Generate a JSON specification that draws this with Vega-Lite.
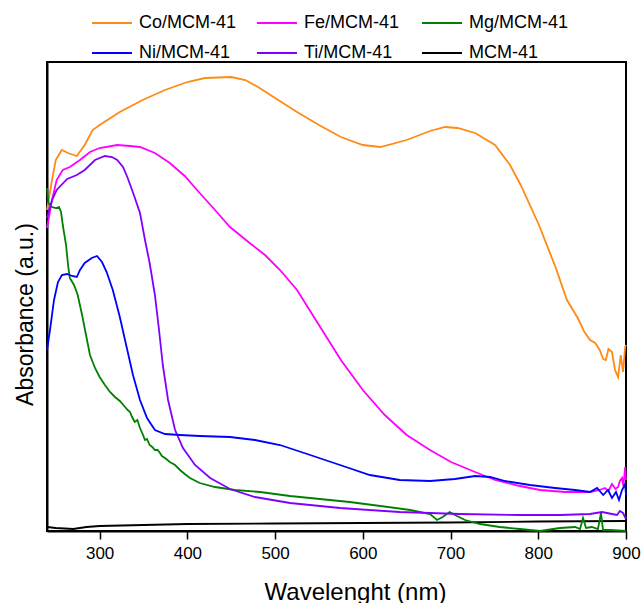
{
  "$schema": "https://vega.github.io/schema/vega-lite/v6.json",
  "width": 579,
  "height": 469,
  "autosize": "none",
  "padding": {"left": 47, "top": 62, "right": 17, "bottom": 72},
  "config": {
    "font": "Liberation Sans",
    "view": {"stroke": "#000", "strokeWidth": 2}
  },
  "datasets": {
    "Co": [[240,321],[245.7,351],[250,371],[256.8,381],[264,378],[273.9,375],[283,386],[292,401],[300,406],[323,419],[349,431],[374.5,441],[400,449],[420,453],[450,454],[466,451],[480.5,444],[500,433],[525,419],[550,406],[575,394],[600,386],[620,384],[650,391],[676.6,400],[693.7,404],[708,403],[728,398],[750.7,386],[767.8,366],[780,346],[800.8,306],[820,263],[832.7,231],[845,213],[852,200],[859,191],[865,188],[870,181],[874,172],[877,171],[880,182],[884,179],[887.5,161],[891,154],[894,176],[896.6,159],[899,184],[900,186]],
    "Fe": [[240,303],[245.7,331],[251,351],[258,361],[266,364],[277.6,371],[289,379],[300,383],[320,386],[334.6,385],[346,384],[363,378],[380,368],[397,355],[411,341],[431.5,321],[448.6,304],[471,288],[488.5,276],[505.6,261],[525,241],[550,206],[575,171],[600,141],[625,116],[650,96],[676.6,81],[700.5,69],[728,59],[750.7,51],[779,45],[802,41],[830.5,39],[859,39],[870,41],[876,43],[880,40],[884,47],[888,42],[891,44],[893,50],[895.5,53],[897,45],[899,64],[900,51]],
    "Mg": [[240,343],[241.7,328],[245.7,324],[250,323],[253.7,324],[256,319],[258,306],[261.7,286],[264,266],[266,253],[270.8,246],[275,236],[280,216],[284.5,196],[289,176],[294.7,163],[300,154],[306,146],[311.8,139],[317.5,134],[323,130],[329,124],[332,121],[334.6,119],[337,114],[340,109],[343,111],[346,103],[349,97],[351.7,91],[354,92],[357,86],[360,84],[363,81],[366,81],[368.8,78],[371,75],[374.5,73],[380,69],[386,66],[391.6,61],[397,57],[403,53],[414,48],[431.5,44],[454,41],[483,39],[517,35],[551,32],[585,29],[620,25],[654,21],[676.6,17],[684.6,11],[691,14],[699,19],[705,16],[716.5,11],[733.6,7],[756,4],[779,2],[802,0],[824.8,3],[842,4],[847.6,2],[851,13],[854.4,3],[861,4],[868,2],[871.5,18],[873.8,1],[882,1],[900,0]],
    "Ni": [[240,181],[243.4,201],[248,231],[252.5,249],[257,256],[262.8,257],[268.5,255],[274,254],[277.6,261],[283,268],[291,273],[297,275],[302.7,269],[308,259],[315,241],[323,214],[331,183],[338,156],[346,131],[354,113],[363,101],[374.5,97],[391.6,96],[414,95],[448.6,94],[477,91],[505.6,86],[540,76],[574,66],[608,56],[642,51],[676.6,50],[705,52],[728,55],[745,54],[762,50],[790.6,46],[819,43],[842,41],[859,39],[867,43],[874,36],[879.5,41],[884,33],[888.6,39],[892,31],[895.5,41],[899,47],[900,36]],
    "Ti": [[240,313],[245.7,331],[251,341],[263,352],[274,356],[283,361],[294.7,371],[306,375],[314,374],[320,371],[326.6,364],[332,353],[339,336],[346,318],[351.7,291],[357,268],[363,236],[367.7,201],[372,166],[378,131],[386,101],[395,83],[408.7,66],[426,53],[448.6,42],[477,34],[517,28],[574,23],[642,19],[710.8,17],[779,16],[824.8,16],[859,17],[872.7,19],[884,17],[889.8,16],[893,20],[896.6,18],[900,12]],
    "M": [[240,4],[250,3],[270,2],[285,4],[300,5],[350,6],[400,7],[500,7.5],[600,8],[700,8.5],[800,9.5],[900,10]]
  },
  "layer": [
    {"data": {"name": "M"}, "transform": [{"calculate": "'MCM-41'", "as": "s"}], "mark": {"type": "line", "strokeWidth": 1.8},
     "encoding": {"x": {"field": "0", "type": "quantitative"}, "y": {"field": "1", "type": "quantitative"}, "color": {"field": "s", "type": "nominal"}}},
    {"data": {"name": "Co"}, "transform": [{"calculate": "'Co/MCM-41'", "as": "s"}], "mark": {"type": "line", "strokeWidth": 1.8},
     "encoding": {"x": {"field": "0", "type": "quantitative"}, "y": {"field": "1", "type": "quantitative"}, "color": {"field": "s", "type": "nominal"}}},
    {"data": {"name": "Fe"}, "transform": [{"calculate": "'Fe/MCM-41'", "as": "s"}], "mark": {"type": "line", "strokeWidth": 1.8},
     "encoding": {"x": {"field": "0", "type": "quantitative"}, "y": {"field": "1", "type": "quantitative"}, "color": {"field": "s", "type": "nominal"}}},
    {"data": {"name": "Mg"}, "transform": [{"calculate": "'Mg/MCM-41'", "as": "s"}], "mark": {"type": "line", "strokeWidth": 1.8},
     "encoding": {"x": {"field": "0", "type": "quantitative"}, "y": {"field": "1", "type": "quantitative"}, "color": {"field": "s", "type": "nominal"}}},
    {"data": {"name": "Ti"}, "transform": [{"calculate": "'Ti/MCM-41'", "as": "s"}], "mark": {"type": "line", "strokeWidth": 1.8},
     "encoding": {"x": {"field": "0", "type": "quantitative"}, "y": {"field": "1", "type": "quantitative"}, "color": {"field": "s", "type": "nominal"}}},
    {"data": {"name": "Ni"}, "transform": [{"calculate": "'Ni/MCM-41'", "as": "s"}], "mark": {"type": "line", "strokeWidth": 1.8},
     "encoding": {
       "x": {"field": "0", "type": "quantitative",
             "scale": {"domain": [240, 900], "nice": false, "zero": false},
             "axis": {"title": "Wavelenght (nm)", "values": [300,400,500,600,700,800,900], "grid": false,
                      "domainColor": "#000", "domainWidth": 2, "tickColor": "#000", "tickWidth": 1.5, "tickSize": 8,
                      "labelFontSize": 17, "labelColor": "#000", "labelPadding": 6, "labelFlush": false,
                      "titleFontSize": 24, "titleFontWeight": "normal", "titleColor": "#000", "titlePadding": 19, "titleX": 308}},
       "y": {"field": "1", "type": "quantitative",
             "scale": {"domain": [0, 469], "nice": false, "zero": false},
             "axis": {"title": "Absorbance (a.u.)", "labels": false, "ticks": false, "grid": false,
                      "domainColor": "#000", "domainWidth": 2,
                      "titleFontSize": 23, "titleFontWeight": "normal", "titleColor": "#000", "titlePadding": 10, "titleY": 252}},
       "color": {"field": "s", "type": "nominal",
                 "scale": {"domain": ["Co/MCM-41","Ni/MCM-41","Fe/MCM-41","Ti/MCM-41","Mg/MCM-41","MCM-41"],
                           "range": ["#ff8a14","#0000ff","#ff00ff","#8000ff","#008000","#000000"]},
                 "legend": {"orient": "none", "legendX": 44, "legendY": -60, "columns": 3, "title": null,
                            "symbolType": "stroke", "symbolSize": 1600, "symbolStrokeWidth": 2,
                            "labelFontSize": 18, "labelColor": "#000", "labelOffset": 6, "labelLimit": 200,
                            "gridAlign": "all", "columnPadding": 14, "rowPadding": -18, "padding": 0}}
     }}
  ]
}
